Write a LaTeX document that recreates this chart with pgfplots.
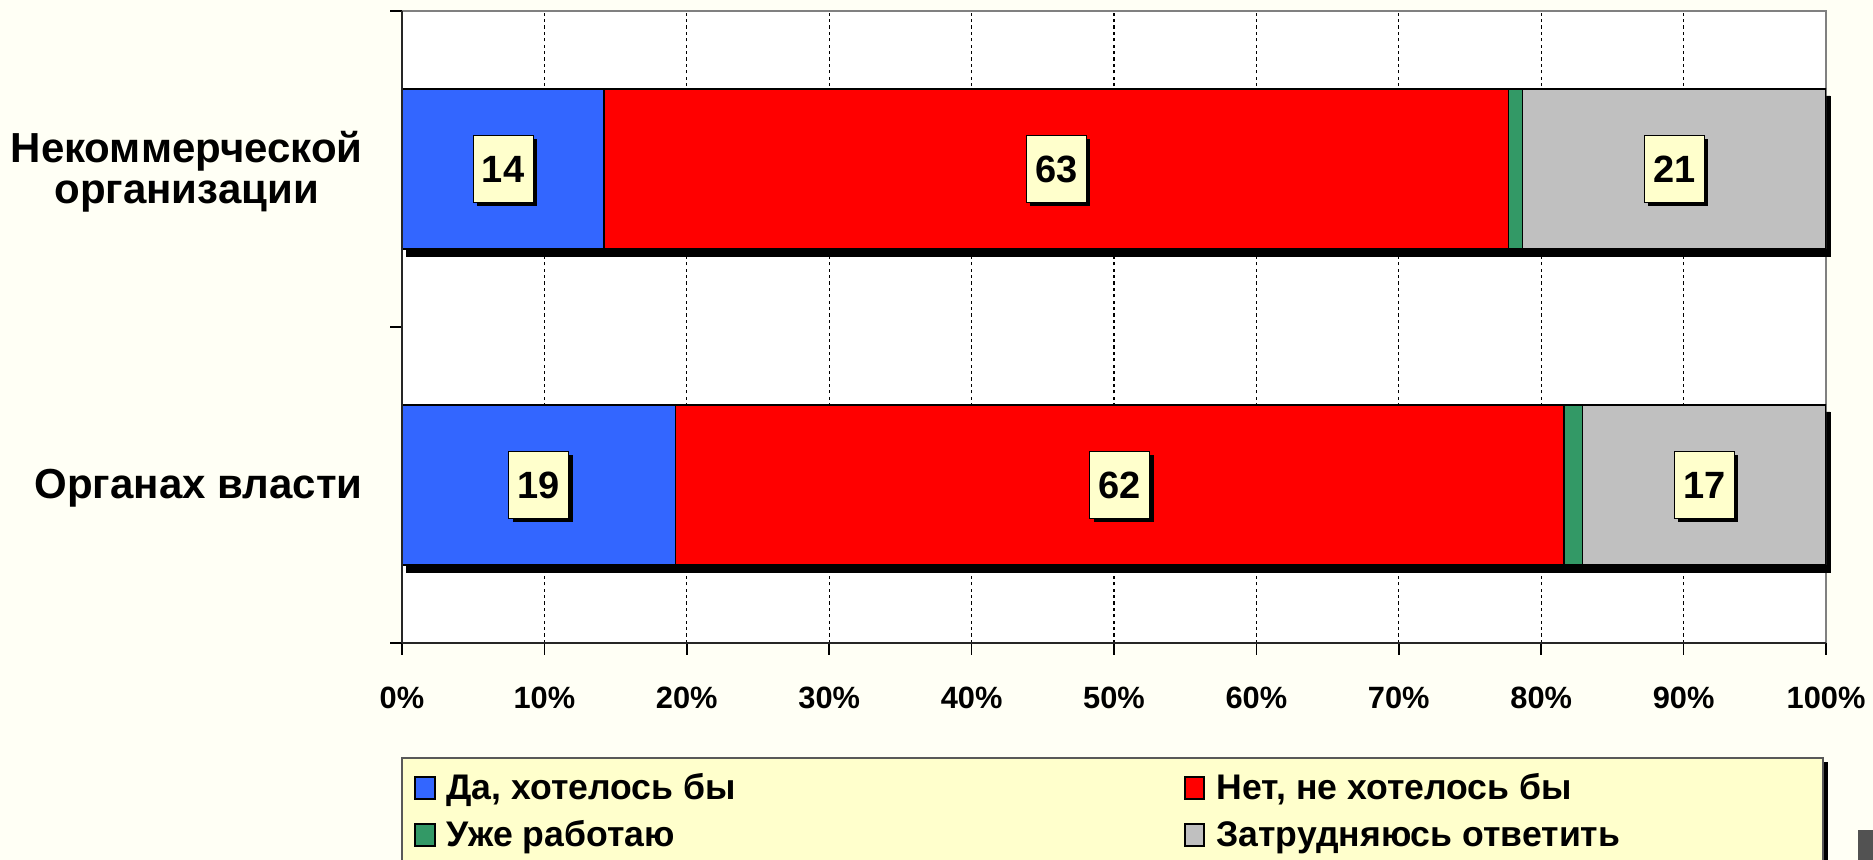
\documentclass[border=0pt]{standalone}
\usepackage{fontspec}
\setmainfont{Liberation Sans}
\usepackage{pgfplots}
\usepackage{pgfplotstable}
\pgfplotsset{compat=1.18}
\usetikzlibrary{shadows}

\definecolor{bgcream}{HTML}{FFFFF5}
\definecolor{cblue}{HTML}{3366FF}
\definecolor{cred}{HTML}{FF0000}
\definecolor{cgreen}{HTML}{339966}
\definecolor{cgray}{HTML}{C0C0C0}
\definecolor{lblyellow}{HTML}{FFFFCC}

% y=2: Некоммерческой организации, y=1: Органах власти (shares in %)
\pgfplotstableread{
y  da    net   work  hard  tot
1  19.2  62.4  1.3   17.1  100
2  14.2  63.5  1.0   21.3  100
}\shares
% value labels, placed at the middle of each segment
\pgfplotstableread{
x      y  lbl
9.6    1  19
50.4   1  62
91.45  1  17
7.1    2  14
45.95  2  63
89.35  2  21
}\labels

\pgfplotsset{
  panel/.style={
    width=712pt, height=316pt, scale only axis,
    at={(201pt,108.5pt)}, anchor=south west,
    xmin=0, xmax=100, ymin=0.5, ymax=2.5,
  },
  seg/.style={fill=#1, draw=black, line width=0.75pt,
    legend image code/.code={%
      \fill[black] (0pt,0pt) rectangle (10pt,11pt);
      \fill[#1] (1pt,1pt) rectangle (9pt,10pt);}},
}

\begin{document}
\begin{tikzpicture}
\fill[bgcream] (0,0) rectangle (936.5pt,430pt);
\useasboundingbox (0,0) rectangle (936.5pt,430pt);
% legend frame
\fill[black] (204pt,0) rectangle (914pt,49pt);
\draw[fill=lblyellow, draw=black!65, line width=1pt] (201pt,-2pt) rectangle (911.5pt,51pt);
\fill[black!68] (929pt,0) rectangle (937pt,15pt);

% background: plot area, grid, bar shadows
\begin{axis}[panel, clip=false,
  axis background/.style={fill=white},
  axis line style={draw=gray, line width=1pt},
  xtick={10,20,...,90}, xticklabels={}, ytick=\empty,
  major tick length=0pt,
  xmajorgrids, grid style={black, line width=0.6pt, dash pattern=on 1.6pt off 1.6pt},
]
\addplot[xbar, bar width=80pt, bar shift=0pt, fill=black, draw=black,
  xshift=2pt, yshift=-3.5pt] table[x=tot, y=y] \shares;
\end{axis}

% stacked bars + legend
\begin{axis}[panel,
  xbar stacked, bar width=80pt,
  axis lines=none, xtick=\empty, ytick=\empty,
  legend columns=2,
  legend style={at={(0.0085,-0.2073)}, anchor=north west,
    draw=none, fill=none, inner sep=0pt, outer sep=0pt,
    font=\fontsize{17.8}{18}\selectfont\bfseries,
    row sep=7.5pt,
    nodes={inner sep=0pt, text height=12.5pt, text depth=3.5pt, anchor=base west},
    /tikz/every odd column/.style={column sep=5.5pt},
    /tikz/every even column/.style={column sep=224pt}},
]
\addplot[seg=cblue] table[x=da, y=y] \shares;
\addplot[seg=cred] table[x=net, y=y] \shares;
\addplot[seg=cgreen] table[x=work, y=y] \shares;
\addplot[seg=cgray] table[x=hard, y=y] \shares;
\legend{{Да, хотелось бы},{Нет, не хотелось бы},{Уже работаю},{Затрудняюсь ответить}}
\end{axis}

% axis lines, ticks, labels, value boxes
\begin{axis}[panel,
  axis lines=left, axis line style={-, draw=black!85, line width=1pt},
  tick align=outside, major tick length=6pt, tick style={black, line width=0.8pt},
  xtick={0,10,...,100},
  xticklabels={0\%,10\%,20\%,30\%,40\%,50\%,60\%,70\%,80\%,90\%,100\%},
  xticklabel style={font=\fontsize{15.4}{16}\selectfont\bfseries,
    anchor=center, inner sep=0pt, yshift=-21.5pt},
  ytick={0.5,1.5,2.5}, yticklabels={,,},
  extra y ticks={1,2},
  extra y tick labels={Органах власти,{Некоммерческой\\организации}},
  extra y tick style={major tick length=0pt},
  yticklabel style={font=\fontsize{21}{20.5}\selectfont\bfseries,
    align=center, inner sep=0pt, xshift=-19.5pt, yshift=-1.5pt},
]
\addplot[draw=none, mark=none, nodes near coords, nodes near coords align=center,
  point meta=explicit symbolic,
  every node near coord/.append style={font=\fontsize{19}{19}\selectfont\bfseries,
    fill=lblyellow, draw=black, line width=0.6pt, inner sep=0pt,
    minimum width=30pt, minimum height=33.5pt,
    drop shadow={shadow xshift=2pt, shadow yshift=-2pt, fill=black, opacity=1}},
] table[x=x, y=y, meta=lbl] \labels;
\end{axis}
\end{tikzpicture}
\end{document}
